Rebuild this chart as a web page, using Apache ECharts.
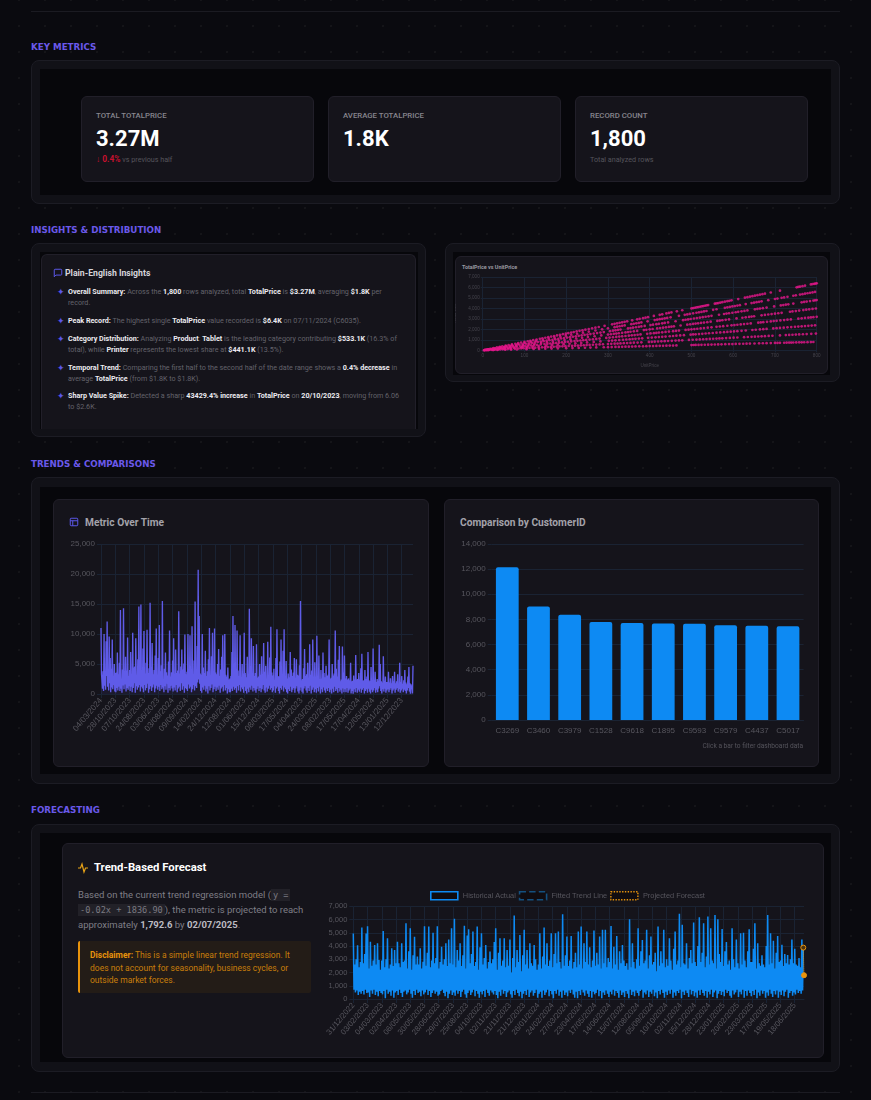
<!DOCTYPE html>
<html>
<head>
<meta charset="utf-8">
<title>Sales dashboard</title>
<script src="https://cdn.jsdelivr.net/npm/echarts@6/dist/echarts.min.js"></script>
<style>
  html, body { margin: 0; padding: 0; background: #0a0a0f; }
  body {
    position: relative; width: 871px; height: 1100px; overflow: hidden;
    font-family: Roboto, "Open Sans", sans-serif;
    background-image: radial-gradient(rgba(255,255,255,.045) 0.7px, transparent 0.9px);
    background-size: 26px 26px; background-position: 6px 13px;
  }
  .abs { position: absolute; }
  .rule { position: absolute; left: 31px; width: 809px; height: 1px; background: #1b1b22; }
  .heading { position: absolute; left: 31px; color: #6a59ea; font: bold 8.7px/12px "DejaVu Sans", sans-serif; white-space: nowrap; }
  .panel { position: absolute; box-sizing: border-box; background: #111117; border: 1px solid #1c1c24; border-radius: 8px; }
  .well { position: absolute; background: #07070b; }
  .card { position: absolute; box-sizing: border-box; background: #15141b; border: 1px solid #211f29; border-radius: 6px; }
  .chart { position: absolute; }
  .t { position: absolute; white-space: nowrap; }
  .kpi-label { color: #87868e; font-size: 7.8px; line-height: 10px; font-weight: 500; }
  .kpi-value { color: #fff; font-size: 22px; line-height: 26px; font-weight: 700; }
  .kpi-note { color: #55545c; font-size: 7.2px; line-height: 10px; }
  .kpi-note b { color: #c8102e; font-size: 8.4px; }
  .card-title { color: #a3a2aa; font-size: 10.2px; line-height: 14px; font-weight: 700; }
  .insight { position: absolute; left: 68px; color: #64636b; font-size: 7.18px; line-height: 10.6px; white-space: nowrap; }
  .insight b { color: #ecebf0; font-weight: 700; }
  .star { position: absolute; left: 56.5px; color: #5b57e8; font-size: 9px; line-height: 10px; }
  code { font: 8.6px/12px "DejaVu Sans Mono", monospace; background: #222128; color: #7b7a82; padding: 1px 2px; }
</style>
</head>
<body>
<div class="rule" style="top:11px"></div>
<div class="rule" style="top:1092px"></div>

<div class="heading" style="top:40.5px">KEY METRICS</div>
<div class="panel" style="left:31px;top:60px;width:809px;height:144px"></div>
<div class="well" style="left:40px;top:69px;width:791px;height:126px"></div>
<div class="card" style="left:81px;top:96px;width:233px;height:86px"></div>
<div class="card" style="left:328px;top:96px;width:233px;height:86px"></div>
<div class="card" style="left:575px;top:96px;width:233px;height:86px"></div>
<div class="t kpi-label" style="left:96px;top:111px">TOTAL TOTALPRICE</div>
<div class="t kpi-value" style="left:96px;top:126px">3.27M</div>
<div class="t kpi-note" style="left:96px;top:154px"><b>↓ 0.4%</b> vs previous half</div>
<div class="t kpi-label" style="left:343px;top:111px">AVERAGE TOTALPRICE</div>
<div class="t kpi-value" style="left:343px;top:126px">1.8K</div>
<div class="t kpi-label" style="left:590px;top:111px">RECORD COUNT</div>
<div class="t kpi-value" style="left:590px;top:126px">1,800</div>
<div class="t kpi-note" style="left:590px;top:155px">Total analyzed rows</div>

<div class="heading" style="top:223.5px">INSIGHTS &amp; DISTRIBUTION</div>
<div class="panel" style="left:31px;top:243px;width:395px;height:194px"></div>
<div class="well" style="left:40px;top:252px;width:378px;height:177px"></div>
<div class="card" style="left:41px;top:254px;width:375px;height:175px;border-bottom:0;border-radius:6px 6px 0 0"></div>
<svg class="abs" style="left:53px;top:268px" width="10" height="10" viewBox="0 0 24 24" fill="none" stroke="#5b57e8" stroke-width="2.4"><path d="M21 15a2 2 0 0 1-2 2H7l-4 4V5a2 2 0 0 1 2-2h14a2 2 0 0 1 2 2z"/></svg>
<div class="t" style="left:65px;top:267px;color:#d6d5db;font-size:8.7px;line-height:12px;font-weight:700">Plain-English Insights</div>
<div class="star" style="top:287px">✦</div>
<div class="insight" style="top:287px"><b>Overall Summary:</b> Across the <b>1,800</b> rows analyzed, total <b>TotalPrice</b> is <b>$3.27M</b>, averaging <b>$1.8K</b> per<br>record.</div>
<div class="star" style="top:316px">✦</div>
<div class="insight" style="top:316px"><b>Peak Record:</b> The highest single <b>TotalPrice</b> value recorded is <b>$6.4K</b> on 07/11/2024 (C6035).</div>
<div class="star" style="top:334px">✦</div>
<div class="insight" style="top:334px"><b>Category Distribution:</b> Analyzing <b>Product</b>: <b>Tablet</b> is the leading category contributing <b>$533.1K</b> (16.3% of<br>total), while <b>Printer</b> represents the lowest share at <b>$441.1K</b> (13.5%).</div>
<div class="star" style="top:363px">✦</div>
<div class="insight" style="top:363px"><b>Temporal Trend:</b> Comparing the first half to the second half of the date range shows a <b>0.4% decrease</b> in<br>average <b>TotalPrice</b> (from $1.8K to $1.8K).</div>
<div class="star" style="top:391px">✦</div>
<div class="insight" style="top:391px"><b>Sharp Value Spike:</b> Detected a sharp <b>43429.4% increase</b> in <b>TotalPrice</b> on <b>20/10/2023</b>, moving from 6.06<br>to $2.6K.</div>

<div class="panel" style="left:445px;top:243px;width:395px;height:139px"></div>
<div class="well" style="left:453px;top:252px;width:377px;height:123px"></div>
<div class="card" style="left:455px;top:256px;width:373px;height:118px"></div>
<div class="t" style="left:462px;top:263px;color:#9b9aa2;font-size:5.4px;line-height:8px;font-weight:700">TotalPrice vs UnitPrice</div>
<div id="scatterChart" class="chart" style="left:455px;top:256px;width:373px;height:118px"></div>

<div class="heading" style="top:457.5px">TRENDS &amp; COMPARISONS</div>
<div class="panel" style="left:31px;top:477px;width:809px;height:307px"></div>
<div class="well" style="left:40px;top:487px;width:791px;height:287px"></div>
<div class="card" style="left:53px;top:499px;width:376px;height:268px"></div>
<svg class="abs" style="left:69px;top:517px" width="10" height="10" viewBox="0 0 24 24" fill="none" stroke="#5b57e8" stroke-width="2.4"><rect x="3" y="3" width="18" height="18" rx="2"/><path d="M3 9h18M9 9v12"/></svg>
<div class="t card-title" style="left:85px;top:516px">Metric Over Time</div>
<div id="timeChart" class="chart" style="left:53px;top:499px;width:376px;height:267px"></div>
<div class="card" style="left:444px;top:499px;width:375px;height:268px"></div>
<div class="t card-title" style="left:460px;top:516px">Comparison by CustomerID</div>
<div id="barChart" class="chart" style="left:444px;top:499px;width:375px;height:267px"></div>
<div class="t" style="right:68px;top:741px;color:#55545c;font-size:6.6px;line-height:10px">Click a bar to filter dashboard data</div>

<div class="heading" style="top:803.5px">FORECASTING</div>
<div class="panel" style="left:31px;top:824px;width:809px;height:248px"></div>
<div class="well" style="left:40px;top:833px;width:791px;height:229px"></div>
<div class="card" style="left:62px;top:843px;width:762px;height:215px"></div>
<svg class="abs" style="left:77px;top:862px" width="12" height="12" viewBox="0 0 24 24" fill="none" stroke="#e8a317" stroke-width="2.4"><path d="M2 12h5l3-8 4 16 3-8h5"/></svg>
<div class="t" style="left:94px;top:860px;color:#fff;font-size:11.3px;line-height:15px;font-weight:700">Trend-Based Forecast</div>
<div class="t" style="left:78px;top:887px;color:#7f7e86;font-size:9.5px;line-height:15px">Based on the current trend regression model (<code>y =</code><br><code>-0.02x + 1836.90</code>), the metric is projected to reach<br>approximately <b style="color:#bcbbc2">1,792.6</b> by <b style="color:#bcbbc2">02/07/2025</b>.</div>
<div class="abs" style="left:78px;top:941px;width:233px;height:52px;box-sizing:border-box;background:#231c17;border-left:2px solid #e8930c;border-radius:2px"></div>
<div class="t" style="left:90px;top:949px;color:#c97f0b;font-size:8.5px;line-height:12.7px"><b style="color:#e8930c">Disclaimer:</b> This is a simple linear trend regression. It<br>does not account for seasonality, business cycles, or<br>outside market forces.</div>
<div id="forecastChart" class="chart" style="left:320px;top:885px;width:500px;height:165px"></div>

<script>
// Tick labels and totals for the Metric Over Time line; each row of values spans one tick.
const timeTickLabels = ['04/03/2024','28/10/2023','07/10/2023','24/08/2023','03/06/2023','03/08/2024','09/09/2024','14/02/2024','24/12/2024','12/08/2024','01/06/2023','15/12/2024','08/03/2025','17/05/2024','04/04/2023','24/03/2025','08/02/2023','17/05/2025','17/04/2024','12/05/2024','13/01/2025','12/12/2023'];
const timeValues = [
  11000,3300,3400,900,3800,500,10000,1400,3200,700,8800,3000,12100,1200,3900,600,9600,1800,6000,300,4200,1100,9100,800,2500,1500,5000,400,
  3500,300,3600,1000,6900,600,3300,1200,5200,500,14000,900,2600,200,4100,1400,14300,800,3800,1600,6200,400,3900,1000,9400,700,3000,1300,
  4000,500,7000,1200,2800,300,10200,1000,4400,1800,4600,200,9300,1300,3200,700,5800,1100,14600,1500,3100,400,14900,1200,3700,900,7600,300,
  10500,1500,3400,600,5200,1000,10700,1700,3500,200,4300,800,15200,1300,4400,500,8500,1100,3300,1600,4000,300,6400,900,10900,1400,2700,700,
  6000,1200,11500,500,3800,1500,4800,800,15500,1100,2500,300,4200,1300,6900,700,3600,1700,3100,200,5400,1000,10600,600,2900,1400,3600,900,
  5600,400,9300,1100,3000,600,7400,1500,3500,300,3900,900,13800,1200,3400,500,4600,1800,7400,700,4100,1300,5100,200,9900,1000,3300,800,
  3700,500,10000,1600,4000,900,9800,1200,3900,300,11300,800,3000,1500,5600,600,15400,1300,2600,1000,8000,1900,20700,2400,13000,1700,3400,500,
  3200,200,10000,1100,4400,700,3500,1400,7200,400,3000,900,3800,100,5800,1300,11000,600,2300,1000,6300,1600,10200,300,3600,800,10900,1200,
  3600,500,3300,1100,5000,700,7500,1400,3000,200,4100,900,6200,1200,9800,400,3100,1500,10000,600,3200,1000,2900,100,4400,800,2400,300,
  2600,300,3000,900,7000,500,13000,1200,2100,700,11500,1000,3500,200,10600,1300,3900,600,3000,1500,9800,400,2800,1100,5000,800,3400,200,
  10200,1200,3500,500,2800,100,6200,900,2300,300,14200,1100,4600,700,9300,1400,3100,400,8000,1000,3000,600,3500,200,8300,800,2700,1300,
  2900,500,5000,1000,3200,300,6300,800,3300,1500,8500,600,3700,200,4700,1100,2500,400,8700,900,3000,1400,6100,700,11200,1000,3600,300,
  3100,600,4200,1300,2300,200,6000,900,10800,1200,3000,500,2900,100,5400,1000,9100,700,3100,1400,7200,400,10800,1100,2200,800,5500,300,
  2600,100,3400,800,2800,500,7000,1200,4100,300,3000,700,3600,1000,6000,200,2700,900,5800,1300,3200,400,3100,100,4800,600,15500,1100,
  2300,400,2500,100,4300,900,7500,1300,3000,600,3300,200,5200,1000,2200,500,8300,1400,3200,100,3900,700,9100,1100,2900,300,5300,800,
  2900,200,9700,1000,2800,400,6400,1200,2500,100,4000,800,2600,300,6900,1100,3500,600,2800,200,4700,900,3000,500,3200,1000,9100,300,
  2500,700,2700,100,5000,900,3100,300,3400,1200,10600,500,4200,800,2900,200,5700,1000,8000,400,2100,700,2400,100,7900,900,3600,300,
  6400,800,2600,300,3000,1000,2400,200,2600,600,2300,900,5200,100,2100,500,2200,50,3100,800,2400,300,6500,1000,2400,200,2500,700,
  3500,400,2400,900,4300,200,6700,700,2200,1000,2300,100,4000,500,2500,800,2900,200,7000,900,2300,400,2100,100,4500,700,2300,300,
  7600,600,2300,1000,3700,200,2000,700,2500,300,2200,900,8200,1300,5000,500,2100,100,1900,800,6300,400,2200,900,2900,200,2000,600,
  2000,800,3700,300,1900,700,2600,1000,1800,100,3000,600,2100,900,3700,200,1800,700,2100,1000,3300,400,1700,800,5200,200,2000,600,
  3000,900,1700,300,2300,700,4000,500,1900,100,1600,600,2900,1000,4500,400,1800,50,1600,800,1400,100,4700
];

// Top customers for the bar comparison.
const customerIds = ['C3269','C3460','C3979','C1528','C9618','C1895','C9593','C9579','C4437','C5017'];
const customerTotals = [12150,9030,8380,7790,7720,7670,7660,7530,7500,7450];

// Forecast chart: history, regression end points and the projected value.
const forecastTickLabels = ['31/12/2022','03/02/2023','04/03/2023','02/04/2023','06/05/2023','30/05/2023','28/06/2023','29/07/2023','25/08/2023','04/10/2023','02/11/2023','21/11/2023','21/12/2023','26/01/2024','24/02/2024','27/03/2024','23/04/2024','17/05/2024','14/06/2024','15/07/2024','12/08/2024','05/09/2024','10/10/2024','02/11/2024','05/12/2024','28/12/2024','23/01/2025','20/02/2025','23/03/2025','17/04/2025','19/05/2025','18/06/2025'];
const historicalValues = [
  4950,700,2600,500,3000,650,4050,300,2400,550,2800,400,5400,600,2700,350,3400,700,4950,450,
  5500,500,2300,150,4330,650,2500,400,2900,700,4080,300,2600,550,4200,200,2950,600,2200,450,
  2900,350,5140,600,2400,50,3000,700,4590,400,2300,550,2600,250,3830,650,2500,100,3700,500,
  2700,600,4330,300,2700,700,2400,450,4200,150,2800,550,2900,650,5720,350,2300,500,3600,700,
  5340,400,2200,100,3300,600,4700,300,2600,700,3200,450,2600,550,3830,200,2300,650,2820,350,
  5500,500,2500,700,3500,300,5470,600,2400,150,2900,450,5000,650,2700,400,3100,550,5500,250,
  2300,350,2800,600,3950,700,2600,450,3000,200,4200,550,2500,50,4500,400,2700,650,5340,300,
  2600,500,6050,250,2400,650,3700,400,2900,600,4200,150,2500,550,3300,700,5540,350,2300,100,
  4800,450,5270,650,2700,300,3400,500,5090,700,2500,200,2800,600,5470,400,2200,100,3900,550,
  4960,350,2600,600,3100,150,4080,700,2300,450,2800,250,3580,650,2700,500,3000,350,4300,600,
  5340,300,2200,50,3500,550,4590,250,2500,700,2900,400,4590,600,2400,150,3700,500,2500,650,
  4500,350,2000,100,3100,600,6300,300,2400,700,3700,450,2800,200,4840,550,2100,50,3300,400,
  5220,600,2600,300,3700,700,2300,150,4200,500,2700,650,2500,250,4080,450,3000,700,2200,100,
  2600,400,4960,550,2300,100,3200,650,5390,300,2600,500,4200,700,2500,200,2900,600,4960,350,
  2400,50,3400,600,4960,400,2700,700,5090,250,2800,550,2300,100,6400,650,2500,300,3300,500,
  4710,200,2500,650,2900,450,4760,700,2300,350,2800,100,3500,550,2400,50,5100,600,2600,300,
  5470,700,2300,500,4200,250,2800,650,5090,400,2600,150,3900,600,2400,100,2900,550,5170,350,
  2500,450,3500,700,2600,200,4710,600,2300,50,5220,500,2700,300,5220,650,2400,400,3100,150,
  2800,550,5520,350,2300,700,3950,250,2600,600,4760,450,2200,100,3600,650,2700,300,4080,500,
  2900,150,2500,600,2700,400,2200,50,6020,700,2400,300,4200,550,2800,200,2300,650,3000,450,
  5340,250,2500,600,3600,700,4460,100,2700,500,2900,350,5220,650,2300,150,3300,550,4710,400,
  2600,700,2800,200,3500,500,2100,50,5470,600,2500,350,3600,700,2700,450,5220,100,2400,550,
  3000,300,2500,650,4590,400,2900,700,2200,100,3800,500,5100,250,2600,600,2900,450,6430,700,
  2400,50,5600,550,2700,300,2600,650,4200,450,2300,150,3100,700,3700,350,2700,600,5770,200,
  2800,500,2500,100,4000,650,6170,300,2800,700,3500,450,5720,250,2400,600,3200,100,6220,550,
  2600,350,5340,700,2900,150,2700,500,6350,650,2300,50,6020,400,3400,600,2800,300,5290,550,
  2500,200,3600,700,4300,450,2600,600,2900,250,2200,100,5340,650,3000,350,2400,500,4500,700,
  2700,150,2300,550,4960,350,2600,700,5010,100,2900,600,2400,250,3600,650,5270,450,2800,200,
  2800,600,3800,300,5720,700,2300,50,4200,500,2700,250,2500,650,3300,400,2600,600,2400,100,
  4000,500,6350,250,2600,700,4960,400,2700,150,4400,600,2300,350,3500,650,4760,100,2800,550,
  2900,300,4100,650,2500,200,3400,550,2700,700,3330,100,2600,450,3000,600,4500,250,2700,500,
  3800,350,2600,700,2500,450,3100,600,2400,400,4500,650,3880
];
const fittedStart = 1836.9;
const fittedEnd = 1792.6;
const projectedValue = 1792.6;

// TotalPrice against UnitPrice: rows follow the fan lines of the plot, steepest first.
const scatterPoints = [
  [6,48],[18,144],[34,272],[47,376],[62,496],[78,624],[92,736],[108,864],[121,968],[137,1096],[150,1200],[164,1312],[178,1424],[192,1536],[205,1640],[218,1744],[232,1856],[246,1968],[262,2096],[278,2224],[292,2336],
  [12,96],[26,208],[41,328],[55,440],[70,560],[85,680],[100,800],[114,912],[129,1032],[143,1144],[157,1256],[171,1368],[185,1480],[199,1592],[212,1696],[225,1800],[239,1912],[254,2032],[270,2160],
  [310,2480],[322,2576],[334,2672],[346,2768],[358,2864],[370,2960],[384,3072],[396,3168],[410,3280],[424,3392],[440,3520],[452,3616],[465,3720],[478,3824],[500,4000],[508,4064],[516,4128],[524,4192],[532,4256],[540,4320],[556,4448],[564,4512],[574,4592],[586,4688],[596,4768],[612,4896],[628,5024],[640,5120],[652,5216],[664,5312],[676,5408],[690,5520],[712,5696],[752,6016],[760,6080],[772,6176],[786,6288],[794,6352],[800,6400],
  [316,2528],[328,2624],[340,2720],[376,3008],[390,3120],[430,3440],[446,3568],[504,4032],[512,4096],[520,4160],[528,4224],[536,4288],[560,4480],[569,4552],[580,4640],[591,4728],[634,5072],[646,5168],[658,5264],[670,5360],[756,6048],[766,6128],[790,6320],[797,6376],
  [10,70],[24,168],[40,280],[55,385],[70,490],[84,588],[100,700],[115,805],[128,896],[144,1008],[158,1106],[172,1204],[186,1302],[199,1393],[212,1484],[226,1582],[240,1680],[254,1778],[270,1890],[286,2002],
  [300,2100],[316,2212],[328,2296],[340,2380],[356,2492],[368,2576],[380,2660],[395,2765],[412,2884],[424,2968],[436,3052],[450,3150],[470,3290],[484,3388],[496,3472],[512,3584],[524,3668],[536,3752],[552,3864],[560,3920],[580,4060],[592,4144],[604,4228],[616,4312],[630,4410],[644,4508],[656,4592],[668,4676],[684,4788],[700,4900],[716,5012],[730,5110],[744,5208],[760,5320],[772,5404],[784,5488],[796,5572],
  [322,2254],[334,2338],[362,2534],[374,2618],[418,2926],[430,3010],[442,3094],[490,3430],[504,3528],[518,3626],[530,3710],[586,4102],[598,4186],[610,4270],[650,4550],[662,4634],[706,4942],[722,5054],[750,5250],[766,5362],[778,5446],[790,5530],
  [8,48],[20,120],[30,180],[44,264],[58,348],[72,432],[88,528],[104,624],[118,708],[132,792],[146,876],[160,960],[174,1044],[188,1128],[202,1212],[216,1296],[230,1380],[244,1464],[258,1548],[274,1644],[290,1740],
  [14,84],[37,222],[51,306],[65,390],[80,480],[96,576],[111,666],[125,750],[139,834],[153,918],[167,1002],[181,1086],[195,1170],[209,1254],[223,1338],[237,1422],[251,1506],[266,1596],[282,1692],
  [305,1830],[318,1908],[330,1980],[348,2088],[360,2160],[374,2244],[388,2328],[402,2412],[416,2496],[430,2580],[444,2664],[462,2772],[480,2880],[492,2952],[506,3036],[520,3120],[534,3204],[548,3288],[566,3396],[578,3468],[590,3540],[606,3636],[620,3720],[634,3804],[652,3912],[664,3984],[680,4080],[698,4188],[714,4284],[726,4356],[744,4464],[764,4584],[776,4656],[792,4752],[800,4800],
  [312,1872],[324,1944],[354,2124],[367,2202],[380,2280],[408,2448],[422,2532],[436,2616],[486,2916],[498,2988],[513,3078],[527,3162],[541,3246],[584,3504],[598,3588],[612,3672],[627,3762],[658,3948],[671,4026],[720,4320],[732,4392],[770,4620],[784,4704],[796,4776],
  [5,25],[15,75],[28,140],[42,210],[52,260],[66,330],[80,400],[96,480],[110,550],[124,620],[140,700],[154,770],[168,840],[182,910],[196,980],[210,1050],[224,1120],[238,1190],[252,1260],[268,1340],[284,1420],
  [300,1500],[314,1570],[326,1630],[342,1710],[354,1770],[370,1850],[386,1930],[400,2000],[418,2090],[432,2160],[446,2230],[458,2290],[474,2370],[490,2450],[504,2520],[516,2580],[530,2650],[546,2730],[562,2810],[574,2870],[590,2950],[608,3040],[622,3110],[638,3190],[650,3250],[668,3340],[684,3420],[700,3500],[716,3580],[736,3680],[750,3750],[768,3840],[782,3910],[798,3990],
  [307,1535],[320,1600],[334,1670],[348,1740],[362,1810],[392,1960],[407,2035],[425,2125],[439,2195],[452,2260],[497,2485],[510,2550],[523,2615],[538,2690],[568,2840],[582,2910],[630,3150],[644,3220],[676,3380],[692,3460],[708,3540],[742,3710],[758,3790],[775,3875],[790,3950],
  [7,28],[19,76],[32,128],[46,184],[60,240],[74,296],[90,360],[102,408],[116,464],[130,520],[148,592],[162,648],[176,704],[190,760],[204,816],[220,880],[234,936],[248,992],[264,1056],[280,1120],[296,1184],
  [13,52],[25,100],[39,156],[53,212],[67,268],[82,328],[96,384],[109,436],[123,492],[139,556],[155,620],[169,676],[183,732],[197,788],[212,848],[227,908],[241,964],[256,1024],[272,1088],
  [304,1216],[320,1280],[334,1336],[350,1400],[364,1456],[378,1512],[394,1576],[410,1640],[422,1688],[438,1752],[456,1824],[470,1880],[486,1944],[500,2000],[514,2056],[530,2120],[548,2192],[560,2240],[576,2304],[596,2384],[610,2440],[626,2504],[642,2568],[660,2640],[672,2688],[690,2760],[704,2816],[722,2888],[738,2952],[756,3024],[772,3088],[780,3120],[792,3168],[800,3200],
  [312,1248],[327,1308],[342,1368],[357,1428],[371,1484],[402,1608],[416,1664],[430,1720],[446,1784],[463,1852],[493,1972],[507,2028],[522,2088],[539,2156],[568,2272],[586,2344],[603,2412],[618,2472],[634,2536],[666,2664],[681,2724],[697,2788],[713,2852],[730,2920],[764,3056],[786,3144],
  [4,12],[14,42],[26,78],[38,114],[50,150],[64,192],[76,228],[94,282],[106,318],[120,360],[134,402],[152,456],[166,498],[180,540],[194,582],[208,624],[222,666],[236,708],[250,750],[266,798],[282,846],
  [302,906],[318,954],[336,1008],[352,1056],[366,1098],[382,1146],[396,1188],[414,1242],[430,1290],[448,1344],[464,1392],[482,1446],[498,1494],[510,1530],[526,1578],[542,1626],[560,1680],[578,1734],[594,1782],[610,1830],[630,1890],[646,1938],[664,1992],[680,2040],[696,2088],[712,2136],[730,2190],[748,2244],[764,2292],[780,2340],[796,2388],
  [310,930],[327,981],[344,1032],[359,1077],[374,1122],[405,1215],[422,1266],[438,1314],[456,1368],[473,1419],[504,1512],[518,1554],[534,1602],[551,1653],[569,1707],[586,1758],[602,1806],[620,1860],[654,1962],[672,2016],[704,2112],[721,2163],[739,2217],[756,2268],[772,2316],[788,2364],
  [9,18],[22,44],[36,72],[48,96],[60,120],[68,136],[86,172],[98,196],[112,224],[126,252],[142,284],[156,312],[170,340],[184,368],[198,396],[214,428],[228,456],[242,484],[256,512],[272,544],[288,576],
  [15,30],[29,58],[42,84],[54,108],[77,154],[92,184],[105,210],[119,238],[134,268],[149,298],[163,326],[177,354],[191,382],[206,412],[221,442],[235,470],[249,498],[264,528],[280,560],
  [300,600],[316,632],[330,660],[346,692],[362,724],[380,760],[398,796],[412,824],[428,856],[444,888],[462,924],[478,956],[494,988],[512,1024],[528,1056],[544,1088],[560,1120],[574,1148],[592,1184],[610,1220],[626,1252],[644,1288],[660,1320],[676,1352],[694,1388],[712,1424],[726,1452],[742,1484],[758,1516],[776,1552],[798,1596],
  [308,616],[323,646],[338,676],[354,708],[371,742],[405,810],[420,840],[436,872],[453,906],[470,940],[503,1006],[520,1040],[536,1072],[552,1104],[567,1134],[583,1166],[601,1202],[635,1270],[652,1304],[668,1336],[685,1370],[734,1468],[750,1500],[767,1534],[787,1574],
  [3,3],[12,12],[25,25],[35,35],[54,54],[68,68],[82,82],[105,105],[122,122],[135,135],[150,150],[165,165],[180,180],[200,200],[215,215],[230,230],[245,245],[258,258],[272,272],[290,290],
  [300,300],[318,318],[334,334],[350,350],[366,366],[384,384],[400,400],[416,416],[432,432],[448,448],[464,464],[500,500],[510,510],[524,524],[540,540],[556,556],[572,572],[590,590],[606,606],[624,624],[640,640],[662,662],[680,680],[700,700],[706,706],[712,712],[722,722],[734,734],[744,744],[758,758],[770,770],[786,786],[792,792],
  [309,309],[326,326],[342,342],[358,358],[375,375],[392,392],[408,408],[424,424],[440,440],[456,456],[505,505],[517,517],[532,532],[548,548],[564,564],[581,581],[598,598],[615,615],[632,632],[651,651],[671,671],[690,690],[728,728],[739,739],[751,751],[764,764],[778,778]
];

const gridColor = '#1a2333';
const tickTextColor = '#57565e';
const chartFont = '"Liberation Sans", Arial, sans-serif';

// Sparse category names: only every Nth slot carries a date.
function sparseCategories(count, step, labels) {
  return Array.from({ length: count }, (_, i) => (i % step === 0 ? (labels[i / step] || '') : ''));
}

function dateAxis(categories, step, fontSize) {
  return {
    type: 'category', data: categories, boundaryGap: false,
    axisLine: { lineStyle: { color: gridColor } },
    axisTick: { show: true, interval: step - 1, length: 4, lineStyle: { color: gridColor } },
    splitLine: { show: true, interval: step - 1, lineStyle: { color: gridColor } },
    axisLabel: { interval: step - 1, rotate: 50, color: tickTextColor, fontFamily: chartFont, fontSize, margin: 5, hideOverlap: false }
  };
}

function valueAxis(max, interval, fontSize) {
  return {
    type: 'value', min: 0, max, interval,
    axisLine: { show: false },
    axisTick: { show: true, length: 4, lineStyle: { color: gridColor } },
    splitLine: { lineStyle: { color: gridColor } },
    axisLabel: { color: tickTextColor, fontFamily: chartFont, fontSize, margin: 6, formatter: v => v.toLocaleString('en-US') }
  };
}

const timeChart = echarts.init(document.getElementById('timeChart'));
timeChart.setOption({
  animation: false,
  grid: { left: 48, right: 16, top: 45, bottom: 72, outerBoundsMode: 'none' },
  xAxis: dateAxis(sparseCategories(timeValues.length, 28, timeTickLabels), 28, 8.2),
  yAxis: valueAxis(25000, 5000, 8),
  series: [{
    type: 'line', data: timeValues, symbol: 'none', silent: true,
    lineStyle: { color: '#5f5be8', width: 1.35 },
    areaStyle: { color: 'rgba(95,91,232,.13)' }
  }]
});

const barChart = echarts.init(document.getElementById('barChart'));
barChart.setOption({
  animation: false,
  grid: { left: 47.7, right: 15.4, top: 45, bottom: 46, outerBoundsMode: 'none' },
  xAxis: {
    type: 'category', data: customerIds,
    axisLine: { lineStyle: { color: gridColor } }, axisTick: { show: false },
    axisLabel: { color: tickTextColor, fontFamily: chartFont, fontSize: 8, margin: 7, interval: 0 }
  },
  yAxis: valueAxis(14000, 2000, 8),
  series: [{
    type: 'bar', data: customerTotals, barCategoryGap: '27%',
    itemStyle: { color: '#0d8af3', borderRadius: [2, 2, 0, 0] }
  }]
});

const scatterChart = echarts.init(document.getElementById('scatterChart'));
scatterChart.setOption({
  animation: false,
  grid: { left: 27.7, right: 11.3, top: 21, bottom: 23.7, outerBoundsMode: 'none' },
  xAxis: {
    type: 'value', min: 0, max: 800, interval: 100, name: 'UnitPrice', nameLocation: 'middle', nameGap: 11,
    nameTextStyle: { color: '#45444c', fontFamily: chartFont, fontSize: 4.6 },
    axisLine: { lineStyle: { color: gridColor } },
    axisTick: { length: 2, lineStyle: { color: gridColor } },
    splitLine: { lineStyle: { color: gridColor } },
    axisLabel: { color: '#45444c', fontFamily: chartFont, fontSize: 4.6, margin: 3 }
  },
  yAxis: {
    type: 'value', min: 0, max: 7000, interval: 1000, name: 'TotalPrice', nameLocation: 'middle', nameGap: 17,
    nameTextStyle: { color: '#45444c', fontFamily: chartFont, fontSize: 4.6 },
    axisLine: { show: false },
    axisTick: { length: 2, lineStyle: { color: gridColor } },
    splitLine: { lineStyle: { color: gridColor } },
    axisLabel: { color: '#45444c', fontFamily: chartFont, fontSize: 4.6, margin: 3, formatter: v => v.toLocaleString('en-US') }
  },
  series: [{
    type: 'scatter', data: scatterPoints, symbolSize: 2.7, silent: true,
    itemStyle: { color: '#e6168c' }
  }]
});

// The forecast adds one slot after the history; its line starts at the last actual value.
const forecastCount = historicalValues.length + 1;
const lastIndex = historicalValues.length - 1;
const fittedSeries = new Array(forecastCount).fill(null);
fittedSeries[0] = fittedStart;
fittedSeries[forecastCount - 1] = fittedEnd;
const projectedSeries = new Array(forecastCount).fill(null);
projectedSeries[lastIndex] = { value: historicalValues[lastIndex], itemStyle: { color: '#4a3210' } };
projectedSeries[forecastCount - 1] = projectedValue;

const forecastChart = echarts.init(document.getElementById('forecastChart'));
forecastChart.setOption({
  animation: false,
  grid: { left: 33.3, right: 16, top: 21.3, bottom: 51, outerBoundsMode: 'none' },
  legend: {
    left: 110, top: 6, padding: 0, itemWidth: 27, itemHeight: 8, itemGap: 3,
    textStyle: { color: tickTextColor, fontFamily: chartFont, fontSize: 7.4 },
    data: [
      { name: 'Historical Actual', icon: 'rect', itemStyle: { color: '#100c10', borderColor: '#0d8af3', borderWidth: 1.6 } },
      { name: 'Fitted Trend Line', icon: 'rect', itemStyle: { color: '#100c10', borderColor: '#14507f', borderWidth: 1.6, borderType: 'dashed' } },
      { name: 'Projected Forecast', icon: 'rect', itemStyle: { color: '#100c10', borderColor: '#e8930c', borderWidth: 1.4, borderType: 'dotted' } }
    ]
  },
  xAxis: dateAxis(sparseCategories(forecastCount, 20, forecastTickLabels), 20, 7.8),
  yAxis: valueAxis(7000, 1000, 7.5),
  series: [
    { name: 'Fitted Trend Line', type: 'line', data: fittedSeries, connectNulls: true, symbol: 'none', z: 1,
      lineStyle: { color: '#14507f', width: 1.5, type: 'dashed' } },
    { name: 'Historical Actual', type: 'line', data: historicalValues, symbol: 'none', z: 2, silent: true,
      lineStyle: { color: '#0d8af3', width: 1.5 } },
    { name: 'Projected Forecast', type: 'line', data: projectedSeries, connectNulls: true, z: 3,
      symbol: 'circle', symbolSize: 5, showSymbol: true, showAllSymbol: true,
      lineStyle: { color: '#e8930c', width: 1, type: 'dotted' },
      itemStyle: { color: '#e8930c', borderColor: '#e8930c', borderWidth: 1 } }
  ]
});
</script>
</body>
</html>
